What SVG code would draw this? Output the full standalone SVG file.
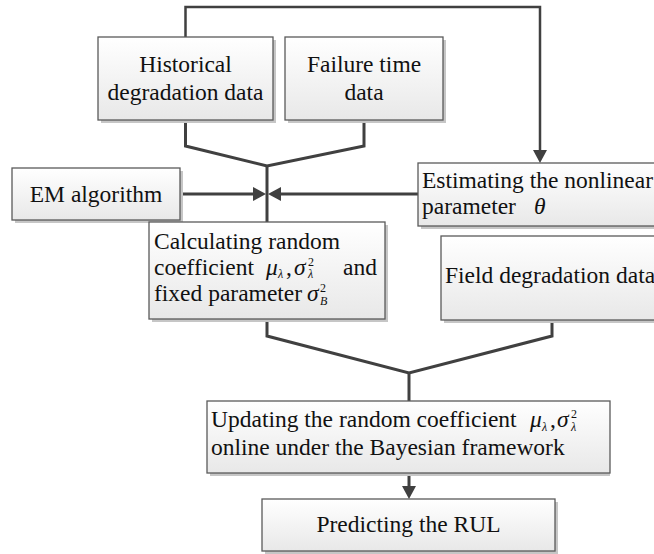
<svg xmlns="http://www.w3.org/2000/svg" width="654" height="554" viewBox="0 0 654 554">
  <defs>
    <linearGradient id="boxFill" x1="0" y1="0" x2="0" y2="1">
      <stop offset="0" stop-color="#ffffff"/>
      <stop offset="1" stop-color="#e8e8e8"/>
    </linearGradient>
    <marker id="arrow" markerUnits="userSpaceOnUse" markerWidth="14" markerHeight="14" refX="7" refY="7" orient="auto">
      <path d="M0,0 L13,7 L0,14 z" fill="#404040"/>
    </marker>
  </defs>
  <style>
    .shadow { fill: #c6c6c6; }
    .box { fill: url(#boxFill); stroke: #5a5a5a; stroke-width: 1.3; }
    text { font-family: "Liberation Serif", "Times New Roman", serif; font-size: 23.5px; fill: #111111; }
    .c { text-anchor: middle; }
    .m { font-style: italic; }
    .s { font-size: 12px; }
    .wire { fill: none; stroke: #404040; stroke-width: 3; stroke-linejoin: miter; }
    .loop { stroke-width: 2.5; }
  </style>

  <rect width="654" height="554" fill="#ffffff"/>

  <!-- connectors -->
  <g id="connectors">
    <!-- feedback loop from the historical data to the nonlinear parameter estimate -->
    <path class="wire loop" d="M185.5,37 V7 H540 V157" marker-end="url(#arrow)"/>
    <!-- historical + failure time data merge -->
    <path class="wire" d="M185.5,120 V146 L267,166 L364,146 V120"/>
    <path class="wire" d="M267,166 V222"/>
    <path class="wire" d="M180,194 H260" marker-end="url(#arrow)"/>
    <path class="wire" d="M418,194 H274" marker-end="url(#arrow)"/>
    <!-- estimated parameters + field data merge -->
    <path class="wire" d="M267,319 V336 L409,373 L552,336 V320"/>
    <path class="wire" d="M409,373 V401"/>
    <path class="wire" d="M409,473 V493" marker-end="url(#arrow)"/>
  </g>

  <g id="historical">
    <rect class="shadow" x="101" y="40" width="175" height="83"/>
    <rect class="box" x="98" y="37" width="175" height="83"/>
    <text class="c" x="185.5" y="72">Historical</text>
    <text class="c" x="185.5" y="100">degradation data</text>
  </g>

  <g id="failure">
    <rect class="shadow" x="288" y="40" width="158" height="83"/>
    <rect class="box" x="285" y="37" width="158" height="83"/>
    <text class="c" x="364" y="72">Failure time</text>
    <text class="c" x="364" y="100">data</text>
  </g>

  <g id="em">
    <rect class="shadow" x="15" y="171" width="168" height="52"/>
    <rect class="box" x="12" y="168" width="168" height="52"/>
    <text class="c" x="96" y="202">EM algorithm</text>
  </g>

  <g id="estimating">
    <rect class="shadow" x="421" y="166" width="260" height="63"/>
    <rect class="box" x="418" y="163" width="260" height="63"/>
    <text x="422" y="188">Estimating the nonlinear</text>
    <text x="422" y="214">parameter</text>
    <text class="m" x="534" y="214">θ</text>
  </g>

  <g id="calculating">
    <rect class="shadow" x="152" y="225" width="236" height="97"/>
    <rect class="box" x="149" y="222" width="236" height="97"/>
    <text x="154" y="249">Calculating random</text>
    <text x="154" y="275">coefficient</text>
    <text class="m" x="266" y="275">μ</text>
    <text class="m s" x="278" y="278">λ</text>
    <text x="286" y="275">,</text>
    <text class="m" x="294" y="275">σ</text>
    <text class="s" x="308" y="266">2</text>
    <text class="m s" x="308" y="278">λ</text>
    <text x="343" y="275">and</text>
    <text x="154" y="301">fixed parameter</text>
    <text class="m" x="307" y="301">σ</text>
    <text class="s" x="320" y="292">2</text>
    <text class="m s" x="320" y="305">B</text>
  </g>

  <g id="field">
    <rect class="shadow" x="444" y="239" width="240" height="84"/>
    <rect class="box" x="441" y="236" width="240" height="84"/>
    <text x="445" y="283">Field degradation data</text>
  </g>

  <g id="updating">
    <rect class="shadow" x="210" y="404" width="400" height="72"/>
    <rect class="box" x="207" y="401" width="403" height="72"/>
    <text x="211" y="427">Updating the random coefficient</text>
    <text class="m" x="530" y="427">μ</text>
    <text class="m s" x="542" y="431">λ</text>
    <text x="550" y="427">,</text>
    <text class="m" x="557" y="427">σ</text>
    <text class="s" x="571" y="418">2</text>
    <text class="m s" x="571" y="431">λ</text>
    <text x="211" y="455">online under the Bayesian framework</text>
  </g>

  <g id="predicting">
    <rect class="shadow" x="265" y="502" width="293" height="52"/>
    <rect class="box" x="262" y="499" width="293" height="52"/>
    <text class="c" x="408.5" y="532">Predicting the RUL</text>
  </g>
</svg>
